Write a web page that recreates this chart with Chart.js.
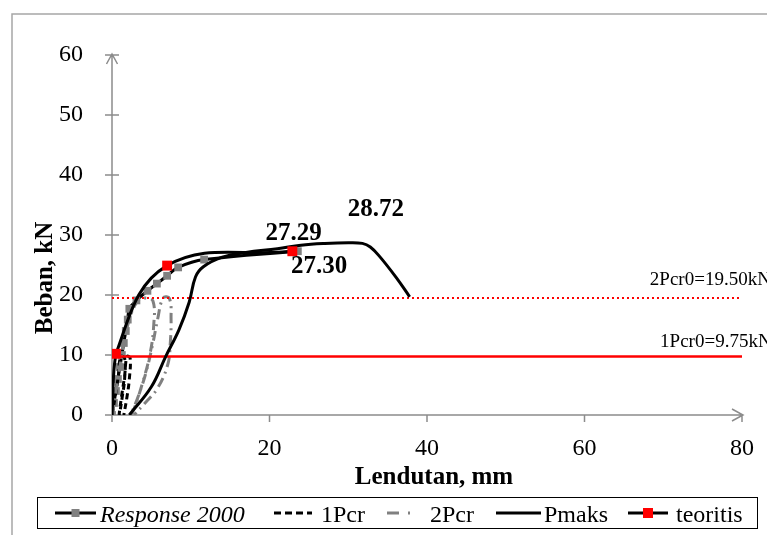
<!DOCTYPE html>
<html><head><meta charset="utf-8">
<script src="https://cdn.jsdelivr.net/npm/chart.js@4"></script>
<style>html,body{margin:0;padding:0;background:#fff;}canvas{display:block;}</style>
</head><body>
<canvas id="c" width="767" height="535"></canvas>
<script>
// ---- data (deflection mm, load kN) ----
const xTicks = [0, 20, 40, 60, 80];
const yTicks = [0, 10, 20, 30, 40, 50, 60];

const responseX = [0, 0.25, 0.5, 0.75, 1.0, 1.25, 1.5, 1.75, 2.0, 2.2, 3.1, 4.5, 5.7, 7.0, 8.4, 11.7, 23.6];
const responseY = [0, 2.0, 4.0, 6.0, 8.0, 10.0, 12.0, 14.0, 15.9, 17.7, 19.1, 20.7, 21.9, 23.2, 24.6, 25.9, 27.30];

const pcr1X = [0, 0.4, 0.8, 1.1, 1.6, 1.6, 1.3, 1.0, 0.9, 1.2, 1.6, 1.9, 2.3, 2.2, 1.9, 1.5];
const pcr1Y = [0, 3.0, 6.5, 9.75, 9.5, 6.0, 3.0, 0.5, 0, 3.0, 6.5, 9.75, 9.5, 6.0, 3.0, 0];

const pcr2X = [0, 0.5, 1.0, 1.5, 2.1, 2.8, 3.4, 4.2, 5.2, 5.3, 4.8, 3.8, 2.8, 2.4, 3.3, 4.3, 5.2, 5.8, 6.5, 7.3, 7.5, 7.4, 7.1, 5.8, 4.2, 2.8];
const pcr2Y = [0, 4.0, 8.0, 12.0, 15.5, 18.0, 19.2, 19.5, 19.0, 15.0, 10.0, 5.0, 1.0, 0, 3.0, 7.0, 12.0, 16.0, 19.5, 19.4, 16.0, 12.0, 8.5, 4.5, 2.0, 0];

const pmaksX = [2.2, 5.0, 6.8, 8.5, 9.8, 10.6, 11.6, 14.0, 17.0, 21.0, 24.0, 27.0, 30.0, 31.8, 32.8, 34.0, 36.1, 37.8];
const pmaksY = [0, 4.7, 9.7, 14.2, 18.8, 23.0, 24.7, 26.3, 27.1, 27.7, 28.3, 28.6, 28.72, 28.6, 28.0, 26.4, 22.9, 19.7];

const teoritisX = [0, 0.5, 7.0, 22.9];
const teoritisY = [0, 10.2, 24.9, 27.29];

const pcr0X = [0, 80];
const pcr0_1Y = [9.75, 9.75];
const pcr0_2Y = [19.5, 19.5];

const valueLabels = [
  {text: '28.72', x: 33.5, y: 34.2},
  {text: '27.29', x: 23.05, y: 30.2},
  {text: '27.30', x: 26.3, y: 24.8}
];
const refLabels = [
  {text: '2Pcr0=19.50kN', x: 68.3, y: 21.7},
  {text: '1Pcr0=9.75kN', x: 69.6, y: 11.3}
];
const legendNames = ['Response 2000', '1Pcr', '2Pcr', 'Pmaks', 'teoritis'];

function pts(xs, ys){ return xs.map((v,i)=>({x:v, y:ys[i]})); }

const SERIF = '"Liberation Serif", "Times New Roman", serif';
const GREY = '#808080';

const decor = {
  id: 'decor',
  beforeDatasetsDraw(chart){
    const {ctx, scales:{x, y}} = chart;
    ctx.save();
    // outer frame
    ctx.strokeStyle = '#a6a6a6'; ctx.lineWidth = 1.5;
    ctx.beginPath(); ctx.moveTo(12, 535); ctx.lineTo(12, 14); ctx.lineTo(767, 14); ctx.stroke();
    const x0 = x.getPixelForValue(0), x1 = x.getPixelForValue(80);
    const y0 = y.getPixelForValue(0), y1 = y.getPixelForValue(60);
    ctx.strokeStyle = '#8c8c8c'; ctx.lineWidth = 1.5;
    ctx.beginPath();
    ctx.moveTo(x0, y0); ctx.lineTo(x0, y1 - 1);
    ctx.moveTo(x0, y0); ctx.lineTo(x1 + 1, y0);
    yTicks.forEach(v => { const p = y.getPixelForValue(v); ctx.moveTo(x0 - 7, p); ctx.lineTo(x0 + 7, p); });
    xTicks.forEach(v => { const p = x.getPixelForValue(v); ctx.moveTo(p, y0); ctx.lineTo(p, y0 + 7); });
    // arrows
    ctx.moveTo(x0 - 5.5, y1 + 9); ctx.lineTo(x0, y1 - 1); ctx.lineTo(x0 + 5.5, y1 + 9);
    ctx.moveTo(x1 - 10, y0 - 6); ctx.lineTo(x1 + 1, y0); ctx.lineTo(x1 - 10, y0 + 6);
    ctx.stroke();
    ctx.restore();
  },
  afterDatasetsDraw(chart){
    const {ctx, scales:{x, y}} = chart;
    ctx.save();
    ctx.fillStyle = '#000';
    // value labels
    ctx.font = 'bold 25px ' + SERIF;
    ctx.textAlign = 'center'; ctx.textBaseline = 'middle';
    valueLabels.forEach(l => ctx.fillText(l.text, x.getPixelForValue(l.x), y.getPixelForValue(l.y)));
    // reference labels
    ctx.font = '19px ' + SERIF;
    ctx.textAlign = 'left'; ctx.textBaseline = 'alphabetic';
    refLabels.forEach(l => ctx.fillText(l.text, x.getPixelForValue(l.x), y.getPixelForValue(l.y)));
    // axis titles
    ctx.font = 'bold 25px ' + SERIF;
    ctx.textAlign = 'center';
    ctx.fillText('Lendutan, mm', 434, 484);
    ctx.save();
    ctx.translate(52, 278); ctx.rotate(-Math.PI/2);
    ctx.fillText('Beban, kN', 0, 0);
    ctx.restore();
    // legend
    ctx.strokeStyle = '#000'; ctx.lineWidth = 1;
    ctx.strokeRect(37.5, 497.5, 720, 31);
    const ly = 513, base = 522;
    ctx.lineWidth = 3;
    // Response 2000
    ctx.strokeStyle = '#000'; ctx.setLineDash([]);
    ctx.beginPath(); ctx.moveTo(55, ly); ctx.lineTo(96, ly); ctx.stroke();
    ctx.fillStyle = GREY; ctx.fillRect(71.5, ly - 4, 8, 8);
    // 1Pcr
    ctx.setLineDash([7, 4]);
    ctx.beginPath(); ctx.moveTo(274, ly); ctx.lineTo(312, ly); ctx.stroke();
    // 2Pcr
    ctx.strokeStyle = GREY; ctx.setLineDash([12, 9, 2, 9]);
    ctx.beginPath(); ctx.moveTo(387, ly); ctx.lineTo(414, ly); ctx.stroke();
    // Pmaks
    ctx.strokeStyle = '#000'; ctx.setLineDash([]);
    ctx.beginPath(); ctx.moveTo(496, ly); ctx.lineTo(541, ly); ctx.stroke();
    // teoritis
    ctx.beginPath(); ctx.moveTo(628, ly); ctx.lineTo(668, ly); ctx.stroke();
    ctx.fillStyle = '#ff0000'; ctx.fillRect(643, ly - 5, 10, 10);
    ctx.fillStyle = '#000';
    ctx.textAlign = 'left';
    ctx.font = 'italic 24px ' + SERIF;
    ctx.fillText(legendNames[0], 100, base);
    ctx.font = '24px ' + SERIF;
    ctx.fillText(legendNames[1], 321, base);
    ctx.fillText(legendNames[2], 430, base);
    ctx.fillText(legendNames[3], 544, base);
    ctx.fillText(legendNames[4], 676, base);
    ctx.restore();
  }
};

new Chart(document.getElementById('c'), {
  type: 'scatter',
  data: {
    datasets: [
      { label: legendNames[4], data: pts(teoritisX, teoritisY), showLine: true, tension: 0.4,
        borderColor: '#000', borderWidth: 3, pointStyle: 'rect', pointRadius: [0, 7, 7, 7],
        pointBackgroundColor: '#ff0000', pointBorderWidth: 0, order: 0 },
      { label: legendNames[3], data: pts(pmaksX, pmaksY), showLine: true, tension: 0.4,
        borderColor: '#000', borderWidth: 3, pointRadius: 0, order: 1 },
      { label: '1Pcr0', data: pts(pcr0X, pcr0_1Y), showLine: true, tension: 0,
        borderColor: '#ff0000', borderWidth: 2.5, pointRadius: 0, order: 2 },
      { label: '2Pcr0', data: pts(pcr0X, pcr0_2Y), showLine: true, tension: 0,
        borderColor: '#ff0000', borderWidth: 2, borderDash: [2, 3], pointRadius: 0, order: 2 },
      { label: legendNames[2], data: pts(pcr2X, pcr2Y), showLine: true, tension: 0.4,
        borderColor: GREY, borderWidth: 3, borderDash: [10, 5, 2, 5], pointRadius: 0, order: 3 },
      { label: legendNames[1], data: pts(pcr1X, pcr1Y), showLine: true, tension: 0.4,
        borderColor: '#000', borderWidth: 3, borderDash: [6, 4], pointRadius: 0, order: 4 },
      { label: legendNames[0], data: pts(responseX, responseY), showLine: true, tension: 0.4,
        borderColor: '#000', borderWidth: 3, pointStyle: 'rect', pointRadius: 5.5,
        pointBackgroundColor: GREY, pointBorderWidth: 0, order: 5 }
    ]
  },
  options: {
    responsive: false, animation: false, devicePixelRatio: 1,
    layout: { padding: { left: 0, right: 25, top: 55, bottom: 0 } },
    plugins: { legend: { display: false }, tooltip: { enabled: false } },
    scales: {
      x: { type: 'linear', min: 0, max: 80,
        afterFit(s){ s.height = 120; s.paddingLeft = 0; s.paddingRight = 0; },
        afterBuildTicks(s){ s.ticks = xTicks.map(v => ({value: v})); },
        grid: { display: false }, border: { display: false },
        ticks: { color: '#000', padding: 11, font: { family: SERIF, size: 24 } } },
      y: { type: 'linear', min: 0, max: 60,
        afterFit(s){ s.width = 112; s.paddingTop = 0; s.paddingBottom = 0; },
        afterBuildTicks(s){ s.ticks = yTicks.map(v => ({value: v})); },
        grid: { display: false }, border: { display: false },
        ticks: { color: '#000', padding: 21, font: { family: SERIF, size: 24 } } }
    }
  },
  plugins: [decor]
});
</script>
</body></html>
